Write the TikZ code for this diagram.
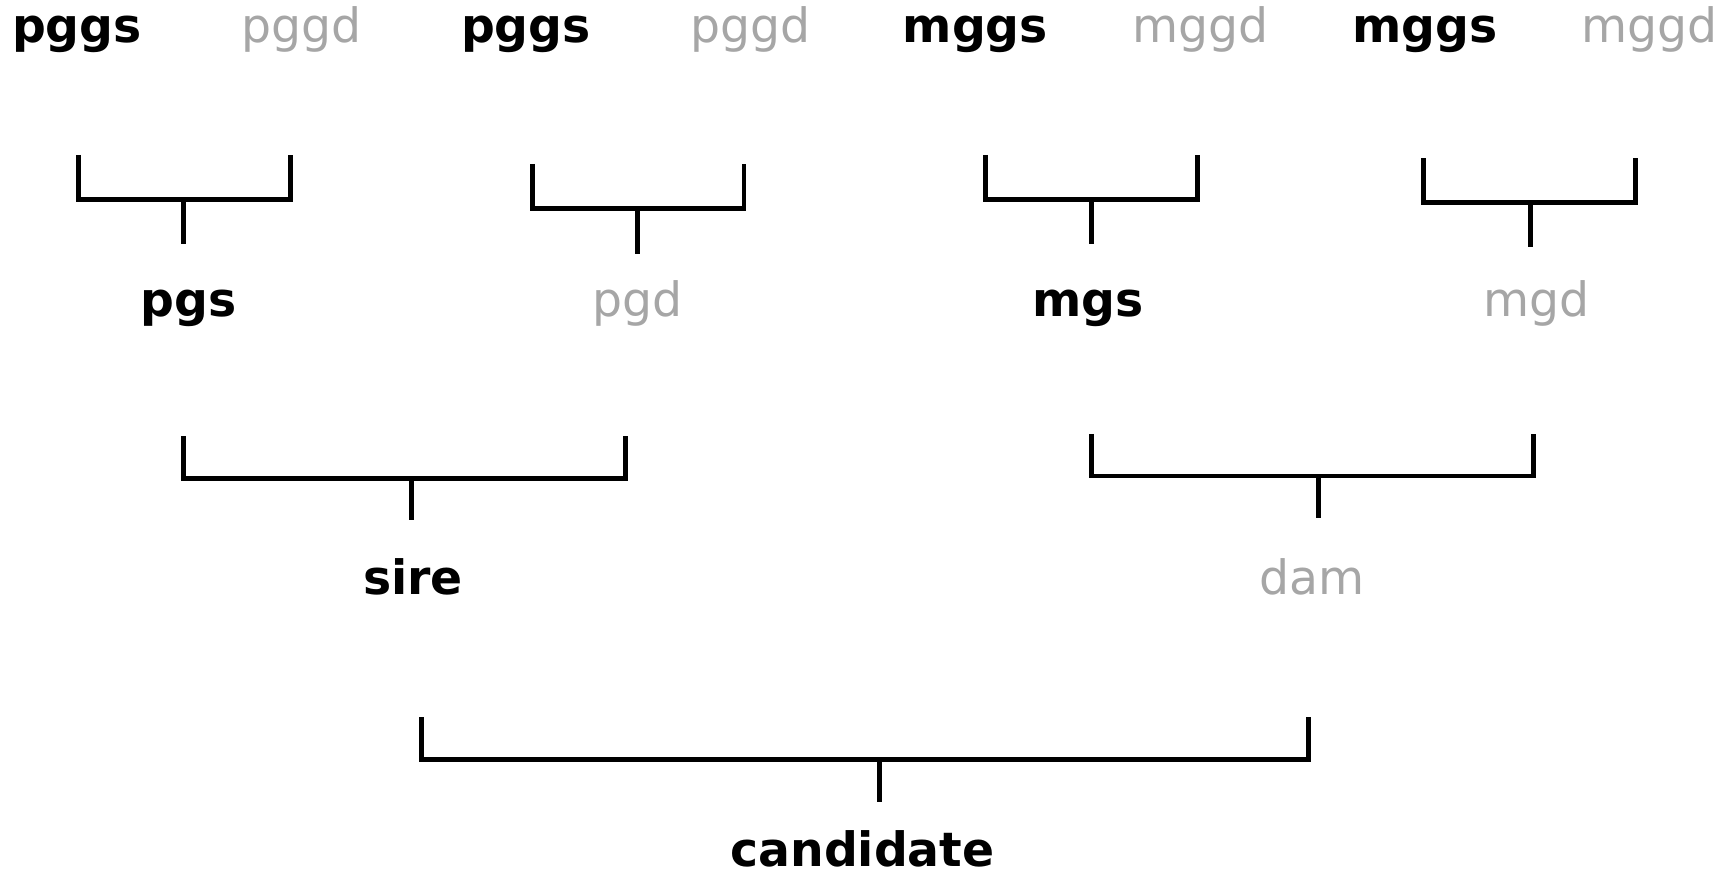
\documentclass[tikz,border=0pt]{standalone}
\usepackage{fontspec}
\setmainfont{DejaVu Sans}
\definecolor{dimtext}{HTML}{A6A6A6}
\begin{document}
\begin{tikzpicture}[x=0.01cm,y=-0.01cm,
  lbl/.style={anchor=base,inner sep=0pt,font=\fontsize{12.15}{14}\selectfont},
  sirelbl/.style={lbl,font=\fontsize{12.15}{14}\selectfont\bfseries,text=black},
  damlbl/.style={lbl,text=dimtext},
  pairline/.style={draw=black,line width=1.25pt,line join=miter}]
\useasboundingbox (0,0) rectangle (1568,789);

% great-grandparents
\node[sirelbl] (g1) at (69.5,38) {pggs};
\node[damlbl]  (g2) at (272,38)  {pggd};
\node[sirelbl] (g3) at (475,38)  {pggs};
\node[damlbl]  (g4) at (678,38)  {pggd};
\node[sirelbl] (g5) at (881,38)  {mggs};
\node[damlbl]  (g6) at (1084,38) {mggd};
\node[sirelbl] (g7) at (1287,38) {mggs};
\node[damlbl]  (g8) at (1490,38) {mggd};

% grandparents
\node[sirelbl] (p1) at (170,286)  {pgs};
\node[damlbl]  (p2) at (576,286)  {pgd};
\node[sirelbl] (p3) at (983,286)  {mgs};
\node[damlbl]  (p4) at (1388,286) {mgd};

% parents
\node[sirelbl] (s) at (373,537)  {sire};
\node[damlbl]  (d) at (1185,537) {dam};

% offspring
\node[sirelbl] (c) at (779,783) {candidate};

% pairing brackets: left end, bar, right end, then stem down
\draw[pairline] (71,140) -- (71,180) -- (262,180) -- (262,140) (166,180) -- (166,220);
\draw[pairline] (481,148) -- (481,188) -- (672,188) -- (672,148) (576,188) -- (576,229);
\draw[pairline] (890,140) -- (890,180) -- (1082,180) -- (1082,140) (986,180) -- (986,220);
\draw[pairline] (1286,143) -- (1286,183) -- (1477,183) -- (1477,143) (1382,183) -- (1382,223);

\draw[pairline] (166,394) -- (166,432) -- (565,432) -- (565,394) (372,432) -- (372,470);
\draw[pairline] (986,392) -- (986,430) -- (1385,430) -- (1385,392) (1191,430) -- (1191,468);

\draw[pairline] (381,648) -- (381,686) -- (1182,686) -- (1182,648) (794,686) -- (794,724);
\end{tikzpicture}
\end{document}
